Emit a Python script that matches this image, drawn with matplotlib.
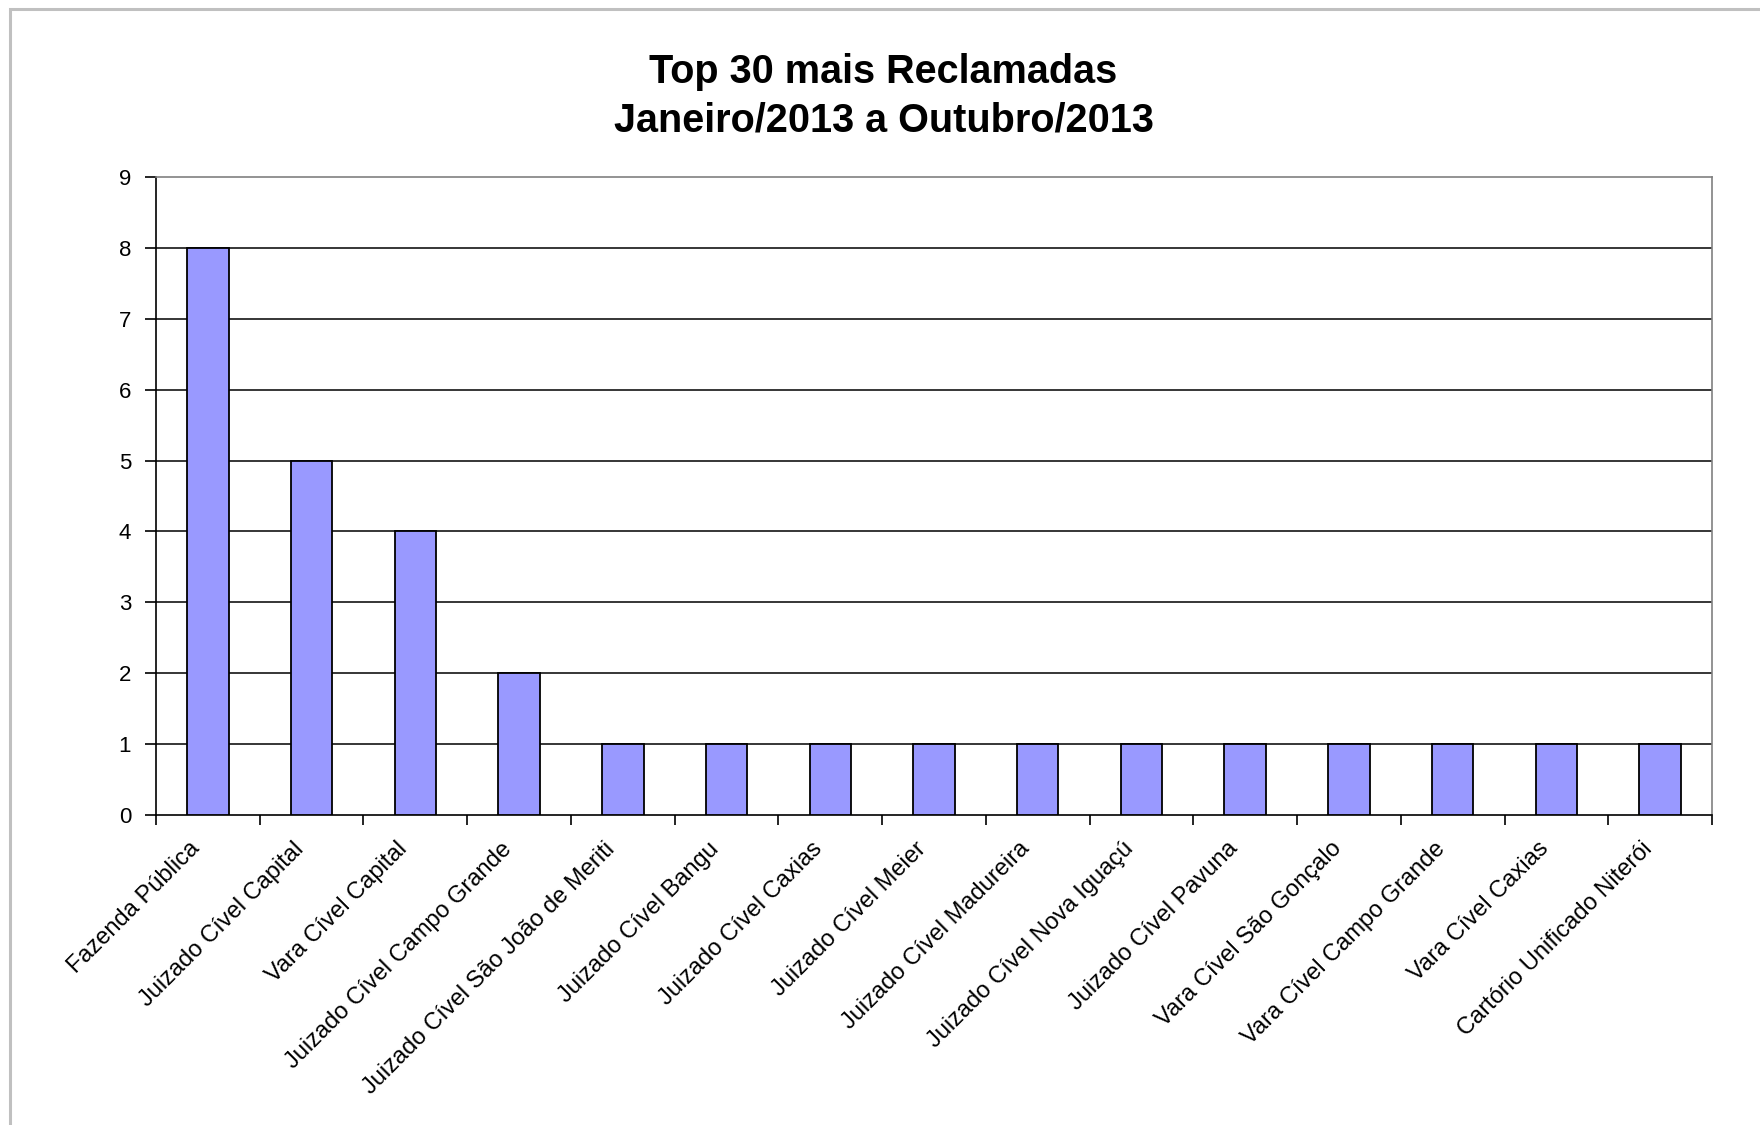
import matplotlib
matplotlib.use("Agg")
import matplotlib.pyplot as plt
from matplotlib.patches import Rectangle
import matplotlib.transforms as mtransforms
import numpy as np

plt.rcParams['font.family'] = ['Liberation Sans', 'DejaVu Sans']

categories = [
    "Fazenda Pública",
    "Juizado Cível Capital",
    "Vara Cível Capital",
    "Juizado Cível Campo Grande",
    "Juizado Cível São João de Meriti",
    "Juizado Cível Bangu",
    "Juizado Cível Caxias",
    "Juizado Cível Meier",
    "Juizado Cível Madureira",
    "Juizado Cível Nova Iguaçú",
    "Juizado Cível Pavuna",
    "Vara Cível São Gonçalo",
    "Vara Cível Campo Grande",
    "Vara Cível Caxias",
    "Cartório Unificado Niterói",
]
reclamacoes = [8, 5, 4, 2, 1, 1, 1, 1, 1, 1, 1, 1, 1, 1, 1]
y_ticks = [0, 1, 2, 3, 4, 5, 6, 7, 8, 9]
title_lines = ["Top 30 mais Reclamadas", "Janeiro/2013 a Outubro/2013"]

W, H = 1760, 1125
fig = plt.figure(figsize=(W / 100, H / 100), dpi=100)
fig.patch.set_facecolor("white")

# outer chart frame (only top and left edges are visible)
fig.patches.append(Rectangle((10 / W, -0.1), 1.2, 1.1 - 9 / H,
                             transform=fig.transFigure, fill=False,
                             edgecolor="#c0c0c0", linewidth=2.2, zorder=0))

ax = fig.add_axes([156 / W, 1 - 815 / H, (1712 - 156) / W, (815 - 177) / H])

x = np.arange(len(categories))
ax.bar(x, reclamacoes, width=0.4, color="#9999ff", edgecolor="black",
       linewidth=1.3, zorder=3)

ax.set_xlim(-0.5, len(categories) - 0.5)
ax.set_ylim(0, 9)
ax.set_yticks(y_ticks)
ax.set_yticklabels([str(v) for v in y_ticks], fontsize=16)

# horizontal gridlines at each integer value
for v in y_ticks[1:-1]:
    ax.axhline(v, color="black", linewidth=1.1, zorder=1)

ax.set_xticks(x)
ax.set_xticklabels(categories, rotation=45, ha="right", va="center",
                   rotation_mode="anchor", fontsize=17)
ax.tick_params(axis="x", which="major", length=0, pad=22)
ax.set_xticks(np.arange(-0.5, len(categories)), minor=True)
ax.tick_params(axis="x", which="minor", length=7, width=1.2, direction="out")
ax.tick_params(axis="y", length=8, width=1.2, direction="out", pad=10)

# nudge the slanted category labels slightly to the left
shift = mtransforms.ScaledTranslation(-8 / 72, 0, fig.dpi_scale_trans)
for lbl in ax.get_xticklabels():
    lbl.set_transform(lbl.get_transform() + shift)

for side in ("left", "bottom"):
    ax.spines[side].set_color("black")
    ax.spines[side].set_linewidth(1.2)
for side in ("top", "right"):
    ax.spines[side].set_color("#808080")
    ax.spines[side].set_linewidth(1.2)

fig.text(0.502, 1 - 72 / H, title_lines[0], ha="center", va="center",
         fontsize=28.5, fontweight="bold")
fig.text(0.502, 1 - 120 / H, title_lines[1], ha="center", va="center",
         fontsize=28.5, fontweight="bold")

fig.savefig("out.png", dpi=100, facecolor="white")
